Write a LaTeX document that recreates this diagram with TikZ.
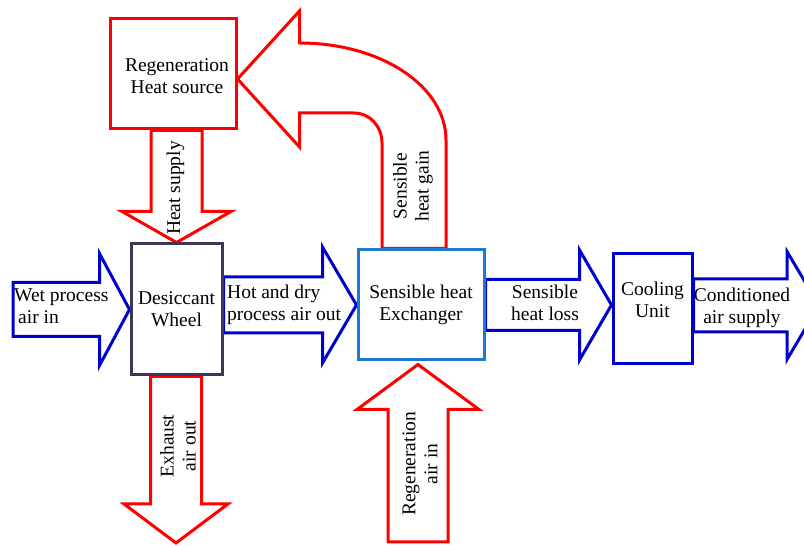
\documentclass[tikz,border=0pt]{standalone}
\usepackage{fontspec}
\setmainfont{Liberation Serif}
\usetikzlibrary{calc,backgrounds}
\definecolor{heatred}{RGB}{255,0,0}
\definecolor{airblue}{RGB}{0,0,204}
\definecolor{hxblue}{RGB}{30,120,205}
\definecolor{wheelgray}{RGB}{62,54,88}

% fat arrow pointing right: colour, tail, tip, shaft half, head half, head length
\newcommand{\hflow}[6]{%
	\draw[flow, draw=#1] let \p1=(#2), \p2=(#3) in
		(\x1,{\y2+#4pt}) -- ({\x2-#6pt},{\y2+#4pt}) -- ({\x2-#6pt},{\y2+#5pt}) -- (\x2,\y2)
		-- ({\x2-#6pt},{\y2-#5pt}) -- ({\x2-#6pt},{\y2-#4pt}) -- (\x1,{\y2-#4pt}) -- cycle;}
% fat arrow pointing up or down: colour, tail, tip, shaft half, head half, head length
\newcommand{\vflow}[6]{%
	\draw[flow, draw=#1] let \p1=(#2), \p2=(#3), \n1={sign(\y2-\y1)} in
		({\x2-#4pt},\y1) -- ({\x2-#4pt},{\y2-\n1*#6pt}) -- ({\x2-#5pt},{\y2-\n1*#6pt}) -- (\x2,\y2)
		-- ({\x2+#5pt},{\y2-\n1*#6pt}) -- ({\x2+#4pt},{\y2-\n1*#6pt}) -- ({\x2+#4pt},\y1) -- cycle;}

\begin{document}
\begin{tikzpicture}[x=1pt, y=1pt,
	every node/.style={font=\rmfamily\fontsize{19.5}{22}\selectfont, align=center, inner sep=0pt},
	unitbox/.style={draw, line width=3pt, fill=white},
	flow/.style={line width=3pt, line join=miter}]

	\useasboundingbox (0,0) rectangle (804,546);
	\clip (0,0) rectangle (804,546);

	% boxes
	\node[unitbox, draw=heatred, minimum width=126pt, minimum height=110pt] (source) at (173,472) {};
	\node[unitbox, draw=wheelgray, minimum width=91pt, minimum height=131pt] (wheel) at (176.5,236.5) {};
	\node[unitbox, draw=hxblue, minimum width=126pt, minimum height=110pt] (hx) at (421,241) {};
	\node[unitbox, draw=airblue, minimum width=79pt, minimum height=110pt] (cooler) at (652.5,237) {};

	\node (sourcetxt) at ([shift={(4,-2)}]source.center) {Regeneration\\Heat source};
	\node (wheeltxt) at (wheel.center) {Desiccant\\Wheel};
	\node (hxtxt) at (hx.center) {Sensible heat\\Exchanger};
	\node (coolertxt) at ([yshift=9pt]cooler.center) {Cooling\\Unit};

	% free ends of the flows
	\coordinate (wetin) at (13,239);
	\coordinate (exhaust) at (176,3);
	\coordinate (regin) at (418,4);
	\coordinate (regtip) at ($(hx.south -| regin)+(0,-3)$);
	\coordinate (supply) at (819,240.5);

	\begin{pgfonlayer}{background}
		\hflow{airblue}{wetin}{wheel.west}{27}{56}{30}
		\hflow{airblue}{wheel.east}{hx.west}{28}{58}{34}
		\hflow{airblue}{hx.east}{cooler.west |- hx.east}{25.5}{55}{32}
		\hflow{airblue}{cooler.east}{supply}{26.5}{54}{32}
		\vflow{heatred}{source.south}{wheel.north}{25.5}{54.5}{31}
		\vflow{heatred}{wheel.south}{exhaust}{25.5}{52}{39}
		\vflow{heatred}{regin}{regtip}{30}{61}{45}
		% bent arrow back to the heat source
		\draw[flow, draw=heatred] let \p1=(hx.north), \p2=($(source.east)+(0,-5)$) in
			({\x1+25pt},\y1) -- ({\x1+25pt},{\y2-61pt})
			.. controls ({\x1+25pt},{\y2-7.4pt}) and ({\x2+143.7pt},{\y2+36pt}) .. ({\x2+62pt},{\y2+36pt})
			-- ({\x2+62pt},{\y2+68pt}) -- (\x2,\y2) -- ({\x2+62pt},{\y2-68pt}) -- ({\x2+62pt},{\y2-34pt})
			-- ({\x2+116pt},{\y2-34pt})
			.. controls ({\x2+132.6pt},{\y2-34pt}) and ({\x1-39pt},{\y2-47.4pt}) .. ({\x1-39pt},{\y2-64pt})
			-- ({\x1-39pt},\y1) -- cycle;
	\end{pgfonlayer}

	% flow labels
	\node[anchor=west, align=left] (wetlbl) at (14,240) {Wet process\\\hspace{4pt}air in};
	\node[anchor=west, align=left] (hotlbl) at (227,241) {Hot and dry\\process air out};
	\node (losslbl) at (545,243) {Sensible\\heat loss};
	\node (supplylbl) at (742,238) {Conditioned\\air supply};
	\node[rotate=90] (heatlbl) at (175.5,358) {Heat supply};
	\node[rotate=90] (gainlbl) at (413,360) {Sensible\\heat gain};
	\node[rotate=90] (exhaustlbl) at (178,100) {Exhaust\\air out};
	\node[rotate=90] (reglbl) at (420,82) {Regeneration\\air in};

\end{tikzpicture}
\end{document}
